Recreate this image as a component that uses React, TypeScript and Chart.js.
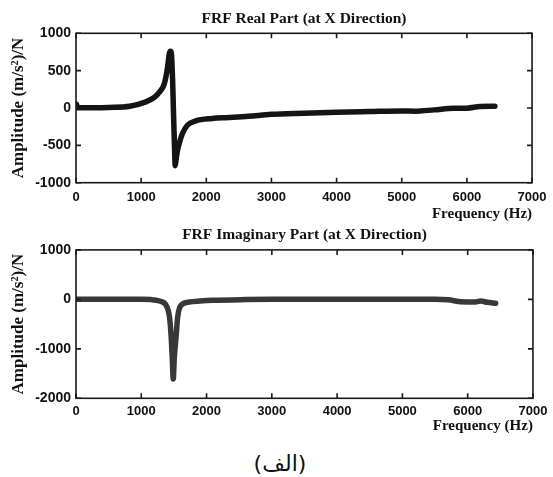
import React, { useEffect, useRef } from "react";
import { Chart, registerables } from "chart.js";

Chart.register(...registerables);

// ---------- data ----------
const realFreq = [0, 8, 20, 200, 500, 825, 1050, 1200, 1280, 1356, 1406, 1432, 1450, 1462, 1472, 1483, 1497, 1512, 1523, 1535, 1555, 1584, 1634, 1710, 1837, 2090, 2343, 2647, 3000, 3500, 4000, 4500, 5000, 5200, 5500, 5800, 6000, 6200, 6430];
const realAmp = [0, 50, 2, 3, 8, 23, 75, 140, 213, 325, 547, 725, 760, 740, 620, 369, -75, -520, -772, -700, -580, -475, -341, -231, -173, -141, -128, -111, -85, -70, -57, -48, -40, -43, -25, -4, -2, 20, 25];

const imagFreq = [0, 500, 1000, 1150, 1280, 1381, 1432, 1458, 1475, 1490, 1505, 1533, 1558, 1609, 1735, 1900, 2090, 2600, 3000, 4000, 5000, 5500, 5700, 5900, 6100, 6200, 6300, 6430];
const imagAmp = [0, 0, 0, -5, -34, -120, -355, -757, -1200, -1610, -1200, -757, -355, -120, -54, -35, -20, -5, 0, 0, 0, 0, -10, -50, -55, -35, -60, -80];

const xTicks = [0, 1000, 2000, 3000, 4000, 5000, 6000, 7000];
const realYTicks = [-1000, -500, 0, 500, 1000];
const imagYTicks = [-2000, -1000, 0, 1000];

const realTitle = "FRF Real Part (at X Direction)";
const imagTitle = "FRF Imaginary Part (at X Direction)";
const yAxisTitle = "Amplitude (m/s\u00B2)/N";
const xAxisTitle = "Frequency (Hz)";
const caption = "(الف)";

// ---------- styling ----------
const SERIF = '"Liberation Serif", "Times New Roman", serif';
const SANS = '"Liberation Sans", Arial, sans-serif';
const INK = "#111111";

const framePlugin = {
  id: "frameTicks",
  afterDatasetsDraw(chart: any) {
    const { ctx, chartArea, scales } = chart;
    const { left, right, top, bottom } = chartArea;
    const L = 5;
    ctx.save();
    ctx.strokeStyle = "#1a1a1a";
    ctx.lineWidth = 1.6;
    ctx.strokeRect(left, top, right - left, bottom - top);
    ctx.beginPath();
    scales.x.ticks.forEach((t: any) => {
      const px = scales.x.getPixelForValue(t.value);
      ctx.moveTo(px, bottom);
      ctx.lineTo(px, bottom - L);
      ctx.moveTo(px, top);
      ctx.lineTo(px, top + L);
    });
    scales.y.ticks.forEach((t: any) => {
      const py = scales.y.getPixelForValue(t.value);
      ctx.moveTo(left, py);
      ctx.lineTo(left + L, py);
      ctx.moveTo(right, py);
      ctx.lineTo(right - L, py);
    });
    ctx.stroke();
    ctx.restore();
  },
};

type PlotProps = {
  top: number;
  height: number;
  title: string;
  titlePadTop: number;
  titlePadBottom: number;
  xs: number[];
  ys: number[];
  color: string;
  yTicks: number[];
  xAxisHeight: number;
  xLabelPad: number;
  xTitlePadBottom: number;
};

function FrfPlot(p: PlotProps) {
  const ref = useRef<HTMLCanvasElement | null>(null);
  useEffect(() => {
    if (!ref.current) return;
    const chart = new Chart(ref.current, {
      type: "line",
      data: {
        datasets: [
          {
            data: p.xs.map((x, i) => ({ x, y: p.ys[i] })),
            borderColor: p.color,
            borderWidth: 5.5,
            pointRadius: 0,
            fill: false,
            cubicInterpolationMode: "monotone",
            borderJoinStyle: "round",
            borderCapStyle: "round",
          } as any,
        ],
      },
      options: {
        animation: false,
        responsive: false,
        devicePixelRatio: 1,
        layout: { padding: { left: 0, right: 16.3, top: 0, bottom: 0 } },
        plugins: {
          legend: { display: false },
          tooltip: { enabled: false },
          title: {
            display: true,
            text: p.title,
            fullSize: false,
            color: INK,
            font: { family: SERIF, size: 15.5, weight: "bold" },
            padding: { top: p.titlePadTop, bottom: p.titlePadBottom },
          },
        },
        scales: {
          x: {
            type: "linear",
            min: xTicks[0],
            max: xTicks[xTicks.length - 1],
            grid: { display: false, drawTicks: false },
            border: { display: false },
            afterBuildTicks: (s: any) => {
              s.ticks = xTicks.map((v) => ({ value: v }));
            },
            afterFit: (s: any) => {
              s.height = p.xAxisHeight;
            },
            ticks: {
              autoSkip: false,
              maxRotation: 0,
              color: INK,
              padding: p.xLabelPad,
              font: { family: SANS, size: 13, weight: "bold" },
              callback: (v: any) => String(v),
            },
            title: {
              display: true,
              text: xAxisTitle,
              align: "end",
              color: INK,
              padding: { top: 0, bottom: p.xTitlePadBottom },
              font: { family: SERIF, size: 15, weight: "bold" },
            },
          },
          y: {
            type: "linear",
            min: p.yTicks[0],
            max: p.yTicks[p.yTicks.length - 1],
            grid: { display: false, drawTicks: false },
            border: { display: false },
            afterBuildTicks: (s: any) => {
              s.ticks = p.yTicks.map((v) => ({ value: v }));
            },
            afterFit: (s: any) => {
              s.width = 76;
            },
            ticks: {
              autoSkip: false,
              color: INK,
              padding: 5,
              font: { family: SANS, size: 14, weight: "bold" },
              callback: (v: any) => String(v),
            },
            title: {
              display: true,
              text: yAxisTitle,
              color: INK,
              padding: { top: 8, bottom: 0 },
              font: { family: SERIF, size: 17, weight: "bold" },
            },
          },
        },
      } as any,
      plugins: [framePlugin],
    });
    return () => chart.destroy();
  }, []);
  return (
    <canvas
      ref={ref}
      width={553}
      height={p.height}
      style={{ position: "absolute", left: 0, top: p.top, width: 553, height: p.height }}
    />
  );
}

export default function App() {
  return (
    <div style={{ position: "absolute", left: 0, top: 0, width: 553, height: 477, background: "#fff" }}>
      <FrfPlot
        top={0}
        height={224}
        title={realTitle}
        titlePadTop={9.5}
        titlePadBottom={5.2}
        xs={realFreq}
        ys={realAmp}
        color="#141414"
        yTicks={realYTicks}
        xAxisHeight={41.3}
        xLabelPad={6.5}
        xTitlePadBottom={0.5}
      />
      <FrfPlot
        top={224}
        height={212}
        title={imagTitle}
        titlePadTop={1.5}
        titlePadBottom={5.8}
        xs={imagFreq}
        ys={imagAmp}
        color="#383838"
        yTicks={imagYTicks}
        xAxisHeight={37.7}
        xLabelPad={5.6}
        xTitlePadBottom={1}
      />
      <div
        dir="rtl"
        style={{
          position: "absolute",
          left: 280,
          top: 450,
          transform: "translateX(-50%)",
          fontFamily: '"DejaVu Sans", serif',
          fontSize: 22,
          lineHeight: "28px",
          color: INK,
          whiteSpace: "nowrap",
        }}
      >
        {caption}
      </div>
    </div>
  );
}
